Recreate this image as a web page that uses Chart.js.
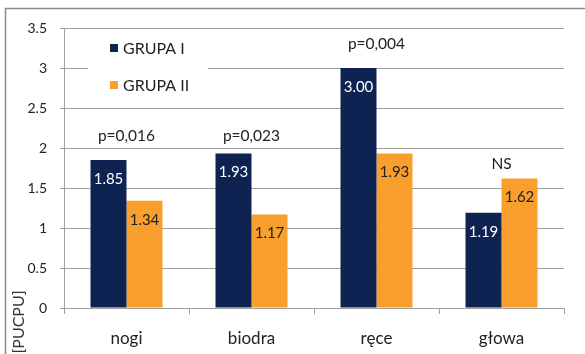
<!DOCTYPE html>
<html><head><meta charset="utf-8">
<script src="https://cdn.jsdelivr.net/npm/chart.js@4"></script>
<style>html,body{margin:0;padding:0;background:#fff}#wrap{width:585px;height:354px;position:relative}</style>
</head><body><div id="wrap"><canvas id="c" width="585" height="354"></canvas></div>
<script>
const categories = ['nogi', 'biodra', 'ręce', 'głowa'];
const grupa1 = [1.85, 1.93, 3.00, 1.19];
const grupa2 = [1.34, 1.17, 1.93, 1.62];
const seriesNames = ['GRUPA I', 'GRUPA II'];
const pLabels = ['p=0,016', 'p=0,023', 'p=0,004', 'NS'];
const pLabelLevels = [2.15, 2.15, 3.3, 1.8];
const yTitle = '[PUCPU]';

const NAVY = '#0F2352';
const ORANGE = '#F89F2D';
const FONT = 'Lato, "Liberation Sans", sans-serif';

const decor = {
  id: 'decor',
  beforeDraw(chart) {
    const ctx = chart.ctx;
    ctx.save();
    ctx.strokeStyle = '#8a8a8a';
    ctx.lineWidth = 1.5;
    ctx.beginPath();
    ctx.moveTo(5.5, 354);
    ctx.lineTo(5.5, 8.5);
    ctx.lineTo(585, 8.5);
    ctx.stroke();
    ctx.restore();
  },
  afterDatasetsDraw(chart) {
    const ctx = chart.ctx;
    const y = chart.scales.y;
    ctx.save();
    ctx.font = '15px ' + FONT;
    ctx.textAlign = 'center';
    ctx.textBaseline = 'middle';
    chart.data.datasets.forEach((ds, di) => {
      const meta = chart.getDatasetMeta(di);
      meta.data.forEach((bar, i) => {
        ctx.fillStyle = di === 0 ? '#ffffff' : '#222222';
        ctx.fillText(ds.data[i].toFixed(2), bar.x, bar.y + 19);
      });
    });
    ctx.font = '15.5px ' + FONT;
    ctx.fillStyle = '#222';
    const m0 = chart.getDatasetMeta(0), m1 = chart.getDatasetMeta(1);
    pLabels.forEach((t, i) => {
      const cx = (m0.data[i].x + m1.data[i].x) / 2;
      ctx.fillText(t, cx, y.getPixelForValue(pLabelLevels[i]));
    });
    ctx.fillStyle = '#fff';
    ctx.fillRect(88, 30, 120, 70);
    const items = [[NAVY, seriesNames[0], 48], [ORANGE, seriesNames[1], 85]];
    ctx.textAlign = 'left';
    ctx.font = '16px ' + FONT;
    items.forEach(([col, txt, cy]) => {
      ctx.fillStyle = col;
      ctx.fillRect(110, cy - 4, 8, 8);
      ctx.fillStyle = '#222';
      ctx.fillText(txt, 123, cy + 1);
    });
    ctx.save();
    ctx.translate(19, 322);
    ctx.rotate(-Math.PI / 2);
    ctx.textAlign = 'center';
    ctx.font = '16px ' + FONT;
    ctx.fillStyle = '#333';
    ctx.fillText(yTitle, 0, 0);
    ctx.restore();
    ctx.restore();
  }
};

new Chart(document.getElementById('c'), {
  type: 'bar',
  data: {
    labels: categories,
    datasets: [
      { label: seriesNames[0], data: grupa1, backgroundColor: NAVY, categoryPercentage: 0.576, barPercentage: 1 },
      { label: seriesNames[1], data: grupa2, backgroundColor: ORANGE, categoryPercentage: 0.576, barPercentage: 1 }
    ]
  },
  options: {
    responsive: false,
    animation: false,
    events: [],
    layout: { padding: { left: 0, right: 21, top: 28, bottom: 0 } },
    plugins: { legend: { display: false }, tooltip: { enabled: false } },
    scales: {
      x: {
        afterFit(s) { s.height = 46; },
        grid: { drawOnChartArea: false, drawTicks: true, tickLength: 6, offset: true, color: '#a0a0a0' },
        border: { color: '#a0a0a0' },
        ticks: { color: '#222', font: { family: FONT, size: 17 }, padding: 14 }
      },
      y: {
        min: 0, max: 3.5,
        afterFit(s) { s.width = 64; },
        grid: { color: '#a0a0a0', tickLength: 4 },
        border: { color: '#a0a0a0' },
        ticks: { stepSize: 0.5, color: '#222', font: { family: FONT, size: 14 }, padding: 13,
                 callback: v => String(Math.round(v * 10) / 10) }
      }
    }
  },
  plugins: [decor]
});
</script></body></html>
